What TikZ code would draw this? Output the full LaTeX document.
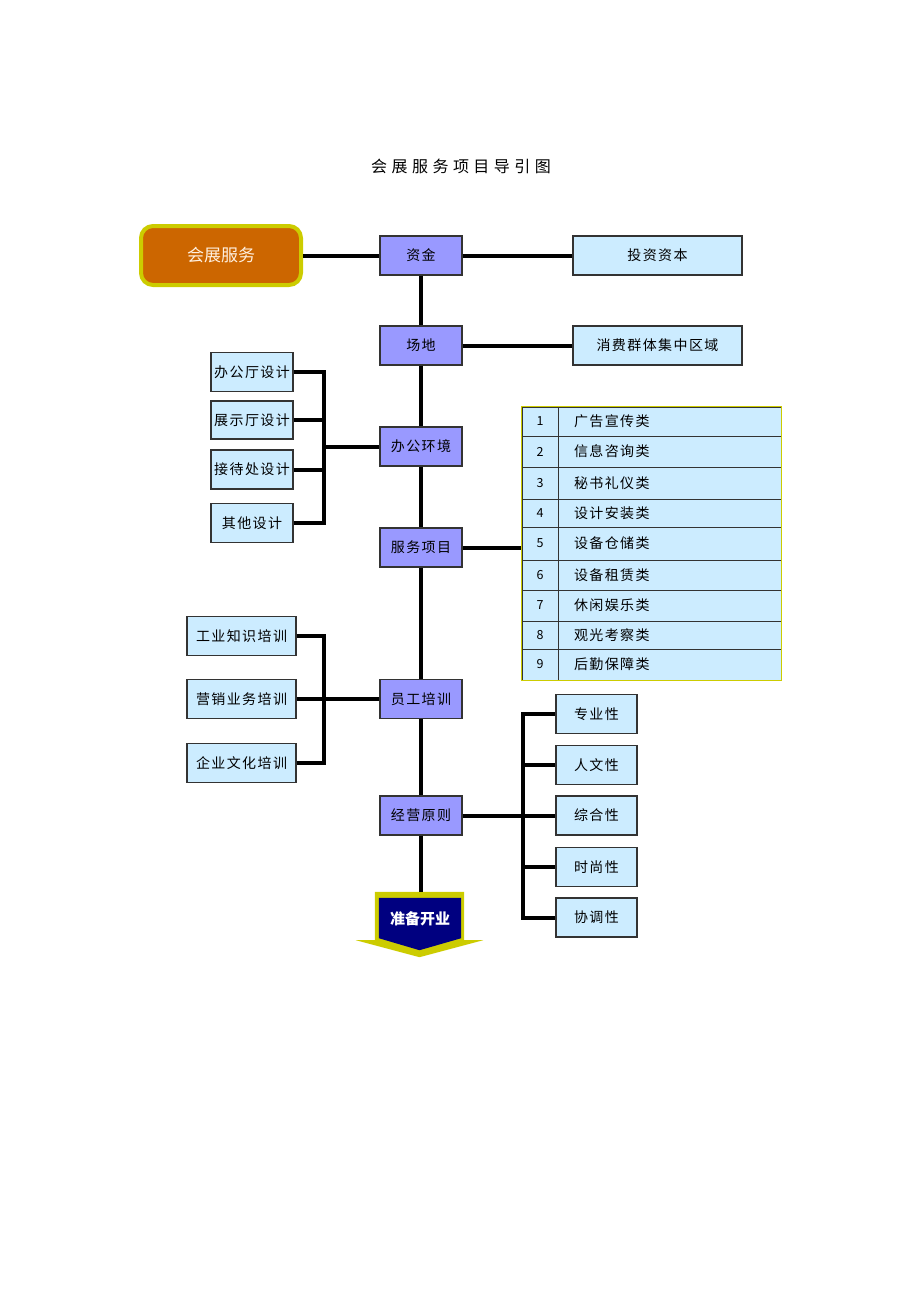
\documentclass[tikz,border=0pt]{standalone}
\usepackage{fontspec}
\setmainfont{Noto Sans CJK SC}
\newfontfamily\titlefont[LetterSpace=28]{Noto Sans CJK SC}
\newfontfamily\boxfont[LetterSpace=10]{Noto Sans CJK SC}
\usepackage{xcolor}
\usetikzlibrary{fit}

\definecolor{hubfill}{HTML}{CC6600}
\definecolor{rimyellow}{HTML}{CCCC00}
\definecolor{stepblue}{HTML}{9999FF}
\definecolor{leafblue}{HTML}{CCECFF}
\definecolor{darknavy}{HTML}{000080}
\definecolor{boxline}{HTML}{333333}

\begin{document}
\begin{tikzpicture}[
    x=1pt, y=-1pt,
    stepbox/.style={rectangle, draw=boxline, line width=1.2pt, fill=stepblue, minimum width=82pt, minimum height=39pt, inner sep=0pt, font=\boxfont\fontsize{14}{16}\selectfont},
    leafbox/.style={rectangle, draw=boxline, line width=1.2pt, fill=leafblue, minimum width=82pt, minimum height=39pt, inner sep=0pt, font=\boxfont\fontsize{14}{16}\selectfont},
    numcell/.style={rectangle, draw=boxline, line width=1pt, fill=leafblue, minimum width=36pt, inner sep=0pt, font=\fontsize{12.5}{14}\selectfont},
    itemcell/.style={rectangle, draw=boxline, line width=1pt, fill=leafblue, text width=191pt, inner xsep=16pt, inner ysep=0pt, align=left, font=\boxfont\fontsize{14}{16}\selectfont},
    link/.style={line width=4pt}
]
\useasboundingbox (0,0) rectangle (920,1302);

% Title
\node[font=\titlefont\fontsize{16}{19}\selectfont] (title) at (461,166) {会展服务项目导引图};

% Start
\node[rectangle, rounded corners=12pt, draw=rimyellow, line width=4pt, fill=hubfill, minimum width=160pt, minimum height=59pt, text=white!88!orange, font=\fontsize{17}{19}\selectfont] (hub) at (221,255.5) {会展服务};

% Main steps
\node[stepbox] (fund) at (421,255.5) {资金};
\node[stepbox] (site) at (421,345.5) {场地};
\node[stepbox] (office) at (421,446.5) {办公环境};
\node[stepbox] (svc) at (421,547.5) {服务项目};
\node[stepbox] (train) at (421,699) {员工培训};
\node[stepbox] (rule) at (421,815.5) {经营原则};

% Right side
\node[leafbox, minimum width=169pt] (capital) at (657.5,255.5) {投资资本};
\node[leafbox, minimum width=169pt] (crowd) at (657.5,345.5) {消费群体集中区域};

% Office design
\node[leafbox] (d1) at (252,372) {办公厅设计};
\node[leafbox, minimum height=38pt] (d2) at (252,420) {展示厅设计};
\node[leafbox] (d3) at (252,469.5) {接待处设计};
\node[leafbox] (d4) at (252,523) {其他设计};
\coordinate (obus) at (324,446.5);

% Service items
\foreach \i/\top/\bot/\txt in {1/407/436/广告宣传类, 2/436/467/信息咨询类, 3/467/499/秘书礼仪类,
    4/499/527/设计安装类, 5/527/560/设备仓储类, 6/560/590/设备租赁类,
    7/590/621/休闲娱乐类, 8/621/649/观光考察类, 9/649/680/后勤保障类} {
  \pgfmathsetmacro\yc{(\top+\bot)/2}
  \pgfmathsetmacro\h{\bot-\top}
  \node[numcell, minimum height=\h pt] (num\i) at (540,\yc) {\i};
  \node[itemcell, minimum height=\h pt] (item\i) at (669.5,\yc) {\txt};
}
\node[draw=rimyellow, line width=1.2pt, inner sep=0pt, fit=(num1)(item9)] (tbl) {};

% Training
\node[leafbox, minimum width=109pt] (t1) at (241.5,636) {工业知识培训};
\node[leafbox, minimum width=109pt] (t2) at (241.5,699) {营销业务培训};
\node[leafbox, minimum width=109pt] (t3) at (241.5,763) {企业文化培训};
\coordinate (tbus) at (324,699);

% Principles
\node[leafbox, minimum width=81pt] (p1) at (596.5,714) {专业性};
\node[leafbox, minimum width=81pt] (p2) at (596.5,765) {人文性};
\node[leafbox, minimum width=81pt] (p3) at (596.5,815.5) {综合性};
\node[leafbox, minimum width=81pt] (p4) at (596.5,867) {时尚性};
\node[leafbox, minimum width=81pt] (p5) at (596.5,917.5) {协调性};
\coordinate (pbus) at (523,815.5);

% Finish
\node[rectangle, minimum width=89pt, minimum height=48pt, inner sep=0pt] (open) at (419.5,916) {};
\fill[rimyellow] (open.north west) -- (open.north east) -- (open.south east) -- ++(19,0)
  -- ([yshift=-17pt]open.south) -- ([xshift=-19pt]open.south west) -- (open.south west) -- cycle;
\fill[darknavy] ([shift={(4pt,-6pt)}]open.north west) -- ([shift={(-3pt,-6pt)}]open.north east)
  -- ([shift={(-3pt,2pt)}]open.south east) -- ([yshift=-10pt]open.south)
  -- ([shift={(4pt,2pt)}]open.south west) -- cycle;
\node[text=white, font=\bfseries\fontsize{15}{17}\selectfont] (opentext) at (420,919) {准备开业};

% Connectors
\draw[link] (hub) -- (fund);
\draw[link] (fund) -- (capital);
\draw[link] (fund) -- (site);
\draw[link] (site) -- (crowd);
\draw[link] (site) -- (office);
\draw[link] (office) -- (svc);
\draw[link] (svc) -- (train);
\draw[link] (train) -- (rule);
\draw[link] (rule) -- (rule |- open.north);
\draw[link] (office) -- (obus);
\foreach \n in {d1,d2,d3,d4} \draw[link] (\n.east) -| (obus);
\draw[link] (svc) -- (svc -| tbl.west);
\draw[link] (train) -- (tbus);
\foreach \n in {t1,t2,t3} \draw[link] (\n.east) -| (tbus);
\draw[link] (rule) -- (pbus);
\foreach \n in {p1,p2,p3,p4,p5} \draw[link] (pbus) |- (\n.west);

\end{tikzpicture}
\end{document}
